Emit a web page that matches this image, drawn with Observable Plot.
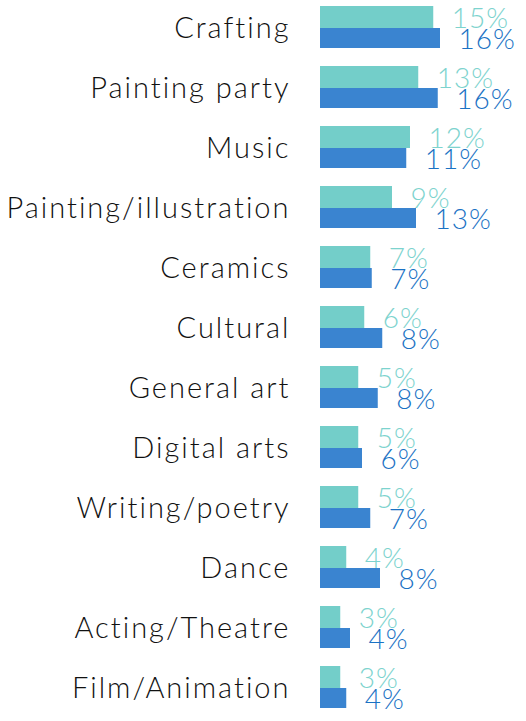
<!DOCTYPE html>
<html>
<head>
<meta charset="utf-8">
<script src="https://cdn.jsdelivr.net/npm/d3@7"></script>
<script src="https://cdn.jsdelivr.net/npm/@observablehq/plot@0.6"></script>
<style>
  html, body { margin: 0; padding: 0; background: #fff; }
  #chart svg { display: block; }
  #chart g[aria-label="y-axis tick label"] text { letter-spacing: 2px; }
  #chart g[aria-label="text"] text { letter-spacing: 1px; }
</style>
</head>
<body>
<div id="chart"></div>
<script>
const categories = ["Crafting", "Painting party", "Music", "Painting/illustration", "Ceramics", "Cultural", "General art", "Digital arts", "Writing/poetry", "Dance", "Acting/Theatre", "Film/Animation"];
// bar lengths (percent)
const tealValues = [15.1, 13.1, 12.0, 9.6, 6.7, 5.9, 5.1, 5.1, 5.1, 3.5, 2.7, 2.7];
const blueValues = [16.0, 15.7, 11.5, 12.8, 6.9, 8.3, 7.7, 5.6, 6.7, 8.0, 4.0, 3.5];
// printed labels (percent)
const tealLabels = [15, 13, 12, 9, 7, 6, 5, 5, 5, 4, 3, 3];
const blueLabels = [16, 16, 11, 13, 7, 8, 8, 6, 7, 8, 4, 4];

const tealColor = "#73cec9";
const blueColor = "#3a84d0";
const tealText = "#7dd3ce";
const blueText = "#1a72c4";

const teal = categories.map((c, i) => ({category: c, value: tealValues[i], label: tealLabels[i] + "%"}));
const blue = categories.map((c, i) => ({category: c, value: blueValues[i], label: blueLabels[i] + "%"}));

const font = "Lato, 'Noto Sans', sans-serif";

const chart = Plot.plot({
  width: 526,
  height: 721,
  marginTop: 0,
  marginBottom: 1,
  marginLeft: 320,
  marginRight: 0,
  style: {fontFamily: font, background: "#fff"},
  x: {domain: [0, 20], range: [320, 470], axis: null},
  y: {domain: categories, padding: 0, range: [0, 720]},
  marks: [
    Plot.barX(teal, {x: "value", y: "category", fill: tealColor, insetTop: 6, insetBottom: 32}),
    Plot.barX(blue, {x: "value", y: "category", fill: blueColor, insetTop: 28, insetBottom: 12}),
    Plot.text(teal, {x: "value", y: "category", text: "label", fill: tealText, textAnchor: "start", lineAnchor: "bottom", dx: 18, dy: -3, fontSize: 28, fontWeight: 300}),
    Plot.text(blue, {x: "value", y: "category", text: "label", fill: blueText, textAnchor: "start", lineAnchor: "bottom", dx: 18, dy: 18, fontSize: 28, fontWeight: 300}),
    Plot.axisY({tickSize: 0, tickPadding: 30, fontSize: 29, fontWeight: 300, fill: "#111", dy: -2, label: null})
  ]
});
document.getElementById("chart").appendChild(chart);
</script>
</body>
</html>
